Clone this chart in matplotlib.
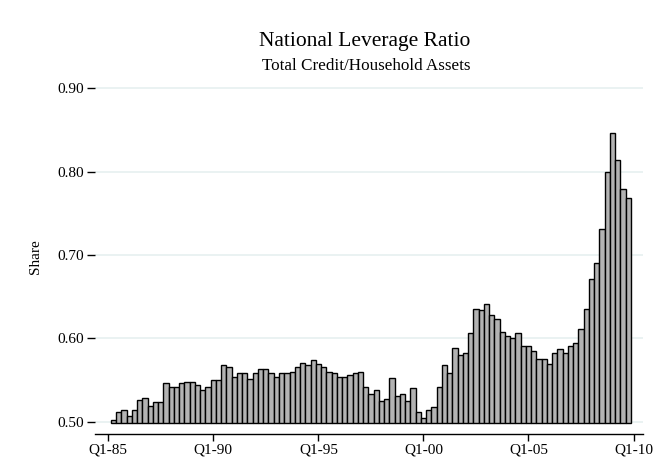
import numpy as np
import matplotlib
matplotlib.use("Agg")
import matplotlib.pyplot as plt

# quarterly leverage ratio, Q2-85 .. Q4-09
ratio = [
    0.5016, 0.5112, 0.5143, 0.5072, 0.5143, 0.5263, 0.5287, 0.5187, 0.5231, 0.5231,
    0.5466, 0.5422, 0.5422, 0.5466, 0.5482, 0.5482, 0.5442, 0.5386, 0.5422, 0.5502,
    0.5502, 0.5681, 0.5661, 0.5538, 0.5582, 0.5582, 0.5518, 0.5582, 0.5637, 0.5637,
    0.5582, 0.5538, 0.5582, 0.5582, 0.5602, 0.5661, 0.5701, 0.5681, 0.5741, 0.5689,
    0.5661, 0.5602, 0.5582, 0.5542, 0.5542, 0.5566, 0.5586, 0.5602, 0.5422, 0.5331,
    0.5382, 0.5251, 0.5271, 0.5522, 0.5303, 0.5327, 0.5251, 0.5406, 0.5112, 0.5040,
    0.5136, 0.5172, 0.5412, 0.5680, 0.5584, 0.5880, 0.5800, 0.5824, 0.6064, 0.6356,
    0.6336, 0.6416, 0.6280, 0.6236, 0.6080, 0.6024, 0.6000, 0.6064, 0.5904, 0.5904,
    0.5848, 0.5748, 0.5748, 0.5688, 0.5828, 0.5868, 0.5828, 0.5908, 0.5948, 0.6108,
    0.6348, 0.6708, 0.6900, 0.7308, 0.8000, 0.8460, 0.8140, 0.7788, 0.7688,
]
# quarter index, Q1-85 = 0
quarter = np.arange(1, len(ratio) + 1)

xtick_pos = [0, 20, 40, 60, 80, 100]
xtick_labels = ["Q1-85", "Q1-90", "Q1-95", "Q1-00", "Q1-05", "Q1-10"]
ytick_pos = [0.50, 0.60, 0.70, 0.80, 0.90]

plt.rcParams["font.family"] = ["Liberation Serif", "DejaVu Serif"]

fig = plt.figure(figsize=(6.59, 4.63), dpi=100)
ax = fig.add_axes([95 / 659, 29 / 463, 548 / 659, 354 / 463])

base = 0.498
ax.bar(quarter, np.array(ratio) - base, bottom=base, width=1.0,
       color="#b3b3b3", edgecolor="black", linewidth=1.0, zorder=3)

ax.set_xlim(-2.53, 101.8)
ax.set_ylim(0.4853, 0.91)

ax.set_yticks(ytick_pos)
ax.set_yticklabels(["{:.2f}".format(v) for v in ytick_pos])
ax.set_xticks(xtick_pos)
ax.set_xticklabels(xtick_labels)
ax.tick_params(axis="y", length=6, width=1.0, pad=2, labelsize=11)
ax.tick_params(axis="x", length=5, width=1.0, pad=2, labelsize=11)

ax.grid(axis="y", color="#e8f1f1", linewidth=1.3, zorder=0)
ax.grid(axis="x", visible=False)

for s in ["left", "top", "right"]:
    ax.spines[s].set_visible(False)
ax.spines["bottom"].set_linewidth(1.0)

fig.text(36 / 659, 0.4456, "Share", rotation=90, ha="center", va="center", fontsize=11)
fig.text(365 / 659, (463 - 46) / 463, "National Leverage Ratio",
         ha="center", va="baseline", fontsize=15.5)
fig.text(366 / 659, (463 - 70) / 463, "Total Credit/Household Assets",
         ha="center", va="baseline", fontsize=12.3)

fig.savefig("out.png", dpi=100)
